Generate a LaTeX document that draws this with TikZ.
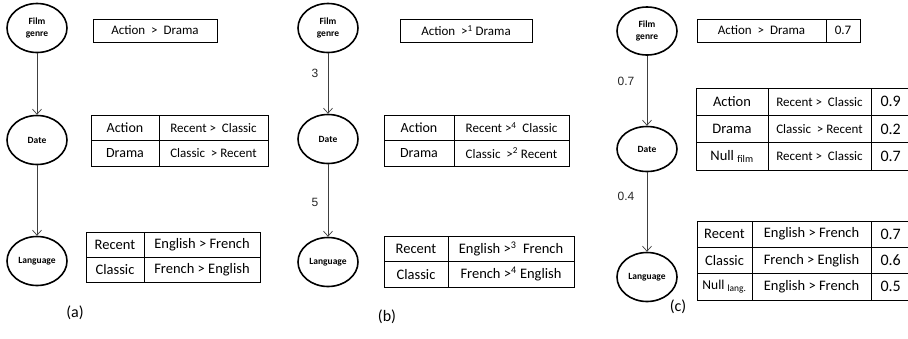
\documentclass[tikz,border=0pt]{standalone}
\usepackage{fontspec}
\setmainfont{Carlito}
\newfontfamily\arialfont{Liberation Sans}
\usetikzlibrary{arrows.meta,shapes.geometric}

\begin{document}
\begin{tikzpicture}[x=1pt,y=-1pt,>={Straight Barb[length=5pt,width=9pt]},
  var/.style={ellipse,draw,line width=1.6pt,minimum width=60,minimum height=49,inner sep=0pt,
    font=\fontsize{9.5}{11.5}\selectfont\bfseries,align=center},
  cell/.style={draw,line width=0.8pt,inner sep=2pt,font=\fontsize{14}{16}\selectfont},
  numcell/.style={cell,minimum width=69,text width=50,align=left,font=\fontsize{16}{18}\selectfont},
  link/.style={->,line width=0.7pt,black!75},
  wt/.style={font=\arialfont\fontsize{12}{14}\selectfont,black!85},
  paneltag/.style={font=\fontsize{16}{18}\selectfont}]
\clip (0,0) rectangle (908,338);

% (a) plain preferences
\node[var] (aF) at (37,28) {Film\\genre};
\node[var] (aD) at (37,140) {Date};
\node[var] (aL) at (37,261) {Language};
\draw[link] (aF) -- (aD);
\draw[link] (aD) -- (aL);
\node[cell,minimum width=124,minimum height=23,font=\fontsize{13}{15}\selectfont] (aF1) at (155,30.5) {Action~~>~~Drama};
\node[cell,minimum width=68,minimum height=25.5] (aD11) at (125,127.75) {Action};
\node[cell,minimum width=109,minimum height=25.5,font=\fontsize{13}{15}\selectfont] (aD12) at (213.5,127.75) {Recent >~~Classic};
\node[cell,minimum width=68,minimum height=25.5] (aD21) at (125,153.25) {Drama};
\node[cell,minimum width=109,minimum height=25.5,font=\fontsize{13}{15}\selectfont] (aD22) at (213.5,153.25) {Classic~~> Recent};
\node[cell,minimum width=58,minimum height=25,font=\fontsize{14.5}{16}\selectfont] (aL11) at (115,244.5) {Recent};
\node[cell,minimum width=116,minimum height=25,font=\fontsize{14.5}{16}\selectfont] (aL12) at (202,244.5) {English > French};
\node[cell,minimum width=58,minimum height=25,font=\fontsize{14.5}{16}\selectfont] (aL21) at (115,269.5) {Classic};
\node[cell,minimum width=116,minimum height=25,font=\fontsize{14.5}{16}\selectfont] (aL22) at (202,269.5) {French > English};
\node[paneltag] (capA) at (75,313) {(a)};

% (b) ranked preferences with weights
\node[var] (bF) at (328,28) {Film\\genre};
\node[var] (bD) at (328,139) {Date};
\node[var] (bL) at (328,262) {Language};
\draw[link] (bF) -- node[wt,pos=0.34,left=6pt]{3} (bD);
\draw[link] (bD) -- node[wt,pos=0.53,left=6pt]{5} (bL);
\node[cell,minimum width=132,minimum height=23,font=\fontsize{13}{15}\selectfont] (bF1) at (466,30.5) {Action~~>\textsuperscript{1} Drama};
\node[cell,minimum width=70,minimum height=25.5] (bD11) at (419,127.75) {Action};
\node[cell,minimum width=115,minimum height=25.5,font=\fontsize{13}{15}\selectfont] (bD12) at (511.5,127.75) {Recent >\textsuperscript{4}~~Classic};
\node[cell,minimum width=70,minimum height=25.5] (bD21) at (419,153.25) {Drama};
\node[cell,minimum width=115,minimum height=25.5,font=\fontsize{13}{15}\selectfont] (bD22) at (511.5,153.25) {Classic~~>\textsuperscript{2} Recent};
\node[cell,minimum width=64,minimum height=25.5,font=\fontsize{14.5}{16}\selectfont] (bL11) at (416,248.75) {Recent};
\node[cell,minimum width=126,minimum height=25.5,font=\fontsize{14.5}{16}\selectfont] (bL12) at (511,248.75) {English >\textsuperscript{3}~~French};
\node[cell,minimum width=64,minimum height=25.5,font=\fontsize{14.5}{16}\selectfont] (bL21) at (416,274.25) {Classic};
\node[cell,minimum width=126,minimum height=25.5,font=\fontsize{14.5}{16}\selectfont] (bL22) at (511,274.25) {French >\textsuperscript{4} English};
\node[paneltag] (capB) at (387,317) {(b)};

% (c) preferences with probabilities
\node[var,minimum height=48] (cF) at (647,31) {Film\\genre};
\node[var,minimum height=45] (cD) at (647,149) {Date};
\node[var] (cL) at (647,277) {Language};
\draw[link] (cF) -- node[wt,pos=0.36,left=9pt]{0.7} (cD);
\draw[link] (cD) -- node[wt,pos=0.3,left=9pt]{0.4} (cL);
\node[cell,minimum width=129,minimum height=23,font=\fontsize{13}{15}\selectfont] (cF1) at (761.5,30.5) {Action~~>~~Drama};
\node[cell,minimum width=34,minimum height=23,font=\fontsize{13}{15}\selectfont] (cF2) at (843,30.5) {0.7};
\node[cell,minimum width=72,minimum height=27.3,font=\fontsize{14.5}{16}\selectfont] (cD11) at (732,101.7) {Action};
\node[cell,minimum width=103,minimum height=27.3,font=\fontsize{13}{15}\selectfont] (cD12) at (819.5,101.7) {Recent >~~Classic};
\node[numcell,minimum height=27.3] (cD13) at (905.5,101.7) {0.9};
\node[cell,minimum width=72,minimum height=27.3,font=\fontsize{14.5}{16}\selectfont] (cD21) at (732,129) {Drama};
\node[cell,minimum width=103,minimum height=27.3,font=\fontsize{13}{15}\selectfont] (cD22) at (819.5,129) {Classic~~> Recent};
\node[numcell,minimum height=27.3] (cD23) at (905.5,129) {0.2};
\node[cell,minimum width=72,minimum height=27.3,font=\fontsize{14.5}{16}\selectfont] (cD31) at (732,156.3) {Null \textsubscript{film}};
\node[cell,minimum width=103,minimum height=27.3,font=\fontsize{13}{15}\selectfont] (cD32) at (819.5,156.3) {Recent >~~Classic};
\node[numcell,minimum height=27.3] (cD33) at (905.5,156.3) {0.7};
\node[cell,minimum width=55,minimum height=26.3,font=\fontsize{14.5}{16}\selectfont] (cL11) at (724.5,234.2) {Recent};
\node[cell,minimum width=119,minimum height=26.3,font=\fontsize{14.5}{16}\selectfont] (cL12) at (811.5,234.2) {English > French};
\node[numcell,minimum height=26.3] (cL13) at (905.5,234.2) {0.7};
\node[cell,minimum width=55,minimum height=26.3,font=\fontsize{14.5}{16}\selectfont] (cL21) at (724.5,260.5) {Classic};
\node[cell,minimum width=119,minimum height=26.3,font=\fontsize{14.5}{16}\selectfont] (cL22) at (811.5,260.5) {French > English};
\node[numcell,minimum height=26.3] (cL23) at (905.5,260.5) {0.6};
\node[cell,minimum width=55,minimum height=26.3,font=\fontsize{13.5}{15}\selectfont] (cL31) at (724.5,286.8) {Null \textsubscript{lang.}};
\node[cell,minimum width=119,minimum height=26.3,font=\fontsize{14.5}{16}\selectfont] (cL32) at (811.5,286.8) {English > French};
\node[numcell,minimum height=26.3] (cL33) at (905.5,286.8) {0.5};
\node[paneltag] (capC) at (678,307) {(c)};
\end{tikzpicture}
\end{document}
